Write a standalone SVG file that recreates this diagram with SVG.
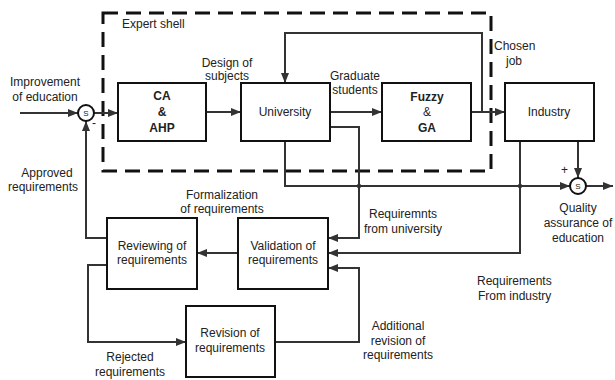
<svg xmlns="http://www.w3.org/2000/svg" width="615" height="380" viewBox="0 0 615 380">
<defs>
<marker id="ah" markerUnits="userSpaceOnUse" markerWidth="10" markerHeight="8" refX="10" refY="4" orient="auto">
<path d="M0,0 L10,4 L0,8 z" fill="#333"/>
</marker>
<style>
.box{fill:#fff;stroke:#111;stroke-width:2}
.sum{fill:#fff;stroke:#111;stroke-width:2}
.c{fill:none;stroke:#333;stroke-width:2}
.a{marker-end:url(#ah)}
text{font-family:"Liberation Sans",Arial,sans-serif;font-size:12px;fill:#222}
.m{text-anchor:middle}
.b{font-weight:bold}
.s{font-size:8px}
.shell{fill:none;stroke:#111;stroke-width:3;stroke-dasharray:15 8}
</style>
</defs>
<rect width="615" height="380" fill="#fff"/>
<rect id="shell" class="shell" x="103" y="13" width="388" height="158"/>
<text x="122" y="28">Expert shell</text>
<g id="connectors">
<path class="c a" d="M20,113 L78,113"/>
<path class="c a" d="M94,113 L118,113"/>
<path class="c a" d="M206,112 L241,112"/>
<path class="c a" d="M330,112 L382,112"/>
<path class="c a" d="M471,112 L505,112"/>
<path class="c a" d="M482,112 L482,33 L285,33 L285,83"/>
<path class="c a" d="M285,142 L285,186 L570,186"/>
<path class="c a" d="M578,142 L578,178"/>
<path class="c a" d="M586,186 L613,186"/>
<path class="c a" d="M330,127 L359,127 L359,238 L328,238"/>
<path class="c a" d="M520,142 L520,253 L328,253"/>
<path class="c a" d="M238,253 L197,253"/>
<path class="c a" d="M107,238 L86,238 L86,121"/>
<path class="c a" d="M107,265 L88,265 L88,342 L186,342"/>
<path class="c a" d="M275,342 L359,342 L359,268 L328,268"/>
<circle cx="359" cy="186" r="2.2" fill="#333"/>
<circle cx="520" cy="186" r="2.2" fill="#333"/>
</g>
<g id="sum1">
<circle class="sum" cx="86" cy="113" r="8"/>
<text class="m s" x="86" y="116">S</text>
<text x="92" y="127">-</text>
</g>
<g id="sum2">
<circle class="sum" cx="578" cy="186" r="8"/>
<text class="m s" x="578" y="189">S</text>
<text x="561" y="174">+</text>
</g>
<g id="ca">
<rect class="box" x="118" y="83" width="88" height="58"/>
<text class="m b" x="162" y="100">CA</text>
<text class="m b" x="162" y="116">&amp;</text>
<text class="m b" x="162" y="132">AHP</text>
</g>
<g id="university">
<rect class="box" x="241" y="83" width="89" height="58"/>
<text class="m" x="285" y="116">University</text>
</g>
<g id="fuzzy">
<rect class="box" x="382" y="83" width="89" height="58"/>
<text class="m b" x="427" y="101">Fuzzy</text>
<text class="m" x="427" y="116">&amp;</text>
<text class="m b" x="427" y="132">GA</text>
</g>
<g id="industry">
<rect class="box" x="505" y="83" width="89" height="58"/>
<text class="m" x="549" y="116">Industry</text>
</g>
<g id="reviewing">
<rect class="box" x="107" y="218" width="90" height="71"/>
<text class="m" x="152" y="250">Reviewing of</text>
<text class="m" x="152" y="264">requirements</text>
</g>
<g id="validation">
<rect class="box" x="238" y="218" width="90" height="71"/>
<text class="m" x="283" y="250">Validation of</text>
<text class="m" x="283" y="264">requirements</text>
</g>
<g id="revision">
<rect class="box" x="186" y="306" width="89" height="71"/>
<text class="m" x="230" y="337">Revision of</text>
<text class="m" x="230" y="352">requirements</text>
</g>
<g id="labels">
<text class="m" x="45" y="86">Improvement</text>
<text class="m" x="45" y="101">of education</text>
<text class="m" x="227" y="67">Design of</text>
<text class="m" x="227" y="80">subjects</text>
<text class="m" x="355" y="80">Graduate</text>
<text class="m" x="355" y="94">students</text>
<text x="494" y="50">Chosen</text>
<text x="506" y="65">job</text>
<text class="m" x="47" y="177">Approved</text>
<text class="m" x="43" y="191">requirements</text>
<text class="m" x="222" y="199">Formalization</text>
<text class="m" x="222" y="213">of requirements</text>
<text class="m" x="403" y="218">Requiremnts</text>
<text class="m" x="403" y="233">from university</text>
<text class="m" x="578" y="212">Quality</text>
<text class="m" x="578" y="227">assurance of</text>
<text class="m" x="578" y="242">education</text>
<text x="477" y="285">Requirements</text>
<text x="478" y="300">From industry</text>
<text class="m" x="398" y="330">Additional</text>
<text class="m" x="398" y="345">revision of</text>
<text class="m" x="398" y="359">requirements</text>
<text class="m" x="130" y="361">Rejected</text>
<text class="m" x="130" y="376">requirements</text>
</g>
</svg>
